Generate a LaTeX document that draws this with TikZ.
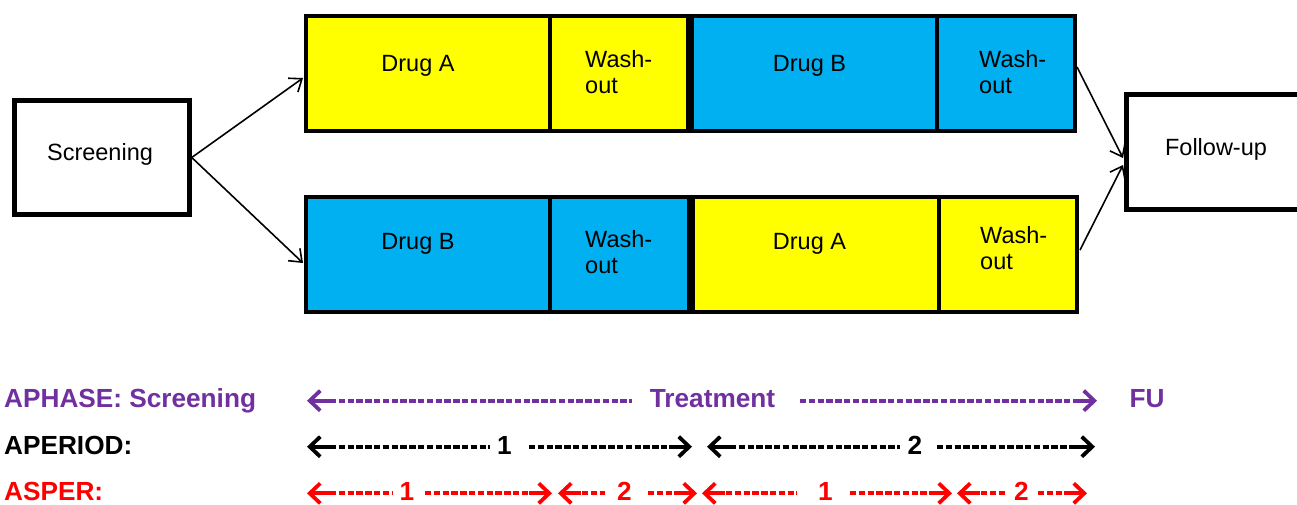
\documentclass[tikz,border=0pt]{standalone}
\usepackage{fontspec}
\setmainfont{Liberation Sans}
\usetikzlibrary{arrows.meta}
\definecolor{drugyellow}{HTML}{FFFF00}
\definecolor{drugblue}{HTML}{00B0F0}
\definecolor{phasepurple}{HTML}{7030A0}
\definecolor{asperred}{HTML}{FF0000}
\begin{document}
\begin{tikzpicture}[x=1pt,y=-1pt,
  cell/.style={draw=black,line width=4.5pt,rectangle,inner sep=0pt,line join=miter},
  boxtext/.style={font=\fontsize{23.5}{26}\selectfont,inner sep=0pt,anchor=base},
  washtext/.style={font=\fontsize{23.5}{26}\selectfont,inner sep=0pt,anchor=base west,align=left},
  flow/.style={line width=1.6pt,-{Straight Barb[length=11pt,width=17pt]}},
  rowtext/.style={font=\fontsize{26.2}{30}\selectfont\bfseries,inner sep=0pt},
  glyph/.style={line width=3.8pt,{Straight Barb[length=10.5pt,width=20pt]}-},
  dashrun/.style={line width=3.8pt,dash pattern=on 6.4pt off 2.4pt}]
\useasboundingbox (0,0) rectangle (1297,504);
\clip (0,0) rectangle (1297,504);

% ---- screening and follow-up boxes ----
\node[cell,minimum width=175,minimum height=114] (scr) at (102,157.5) {};
\node[boxtext] (scrt) at (100,160) {Screening};
\node[cell,minimum width=193.5,minimum height=115] (fu) at (1223.25,152) {};
\node[boxtext] (fut) at (1216,155) {Follow-up};

% ---- sequence AB (top row) ----
\node[cell,fill=drugyellow,minimum width=244,minimum height=115] (a1) at (428,73.5) {};
\node[cell,fill=drugyellow,minimum width=138,minimum height=115] (w1) at (619,73.5) {};
\node[cell,fill=drugblue,minimum width=245,minimum height=115] (b1) at (814.5,73.5) {};
\node[cell,fill=drugblue,minimum width=138,minimum height=115] (w2) at (1006,73.5) {};
\node[boxtext] (a1t) at (418,71) {Drug A};
\node[washtext] (w1t) at (585,93) {Wash-\\out};
\node[boxtext] (b1t) at (809.5,71) {Drug B};
\node[washtext] (w2t) at (979,93) {Wash-\\out};

% ---- sequence BA (bottom row) ----
\node[cell,fill=drugblue,minimum width=244,minimum height=115] (b2) at (428,254.5) {};
\node[cell,fill=drugblue,minimum width=139,minimum height=115] (w3) at (619.5,254.5) {};
\node[cell,fill=drugyellow,minimum width=246,minimum height=115] (a2) at (816,254.5) {};
\node[cell,fill=drugyellow,minimum width=138,minimum height=115] (w4) at (1008,254.5) {};
\node[boxtext] (b2t) at (418,249) {Drug B};
\node[washtext] (w3t) at (585,273) {Wash-\\out};
\node[boxtext] (a2t) at (809.5,249) {Drug A};
\node[washtext] (w4t) at (980,269) {Wash-\\out};

% ---- randomisation and follow-up connectors ----
\coordinate (inTop) at (303,78);
\coordinate (inBot) at (303,263);
\coordinate (outTop) at (1077,67);
\coordinate (outBot) at (1080,250);
\coordinate (fuTop) at (1123,158);
\coordinate (fuBot) at (1123,165);
\draw[flow] (scr.east) -- (inTop);
\draw[flow] (scr.east) -- (inBot);
\draw[flow] (outTop) -- (fuTop);
\draw[flow] (outBot) -- (fuBot);

% ---- analysis variables ----
% APHASE
\begin{scope}[phasepurple]
\node[rowtext,text=phasepurple,anchor=base west] (aphase) at (4,407) {APHASE: Screening};
\node[rowtext,text=phasepurple,anchor=base] (treat) at (712.5,407) {Treatment};
\node[rowtext,text=phasepurple,anchor=base] (fulab) at (1147,407) {FU};
\foreach \x/\d in {307/1,1097/-1}
  \draw[glyph] (\x,400.7) -- ++(23*\d,0);
\foreach \a/\b in {330/632,800/1074}
  \draw[dashrun] (\a,400.7) -- (\b,400.7);
\end{scope}

% APERIOD
\begin{scope}[black]
\node[rowtext,anchor=base west] (aperiod) at (4,454) {APERIOD:};
\node[rowtext,anchor=base] (per1) at (504.5,454) {1};
\node[rowtext,anchor=base] (per2) at (915,454) {2};
\foreach \x/\d in {307/1,692/-1,707/1,1095/-1}
  \draw[glyph] (\x,446.7) -- ++(23*\d,0);
\foreach \a/\b in {330/490,529/669,730/900,937/1072}
  \draw[dashrun] (\a,446.7) -- (\b,446.7);
\end{scope}

% ASPER
\begin{scope}[asperred]
\node[rowtext,text=asperred,anchor=base west] (asper) at (4,500) {ASPER:};
\node[rowtext,text=asperred,anchor=base] (sp11) at (407,500) {1};
\node[rowtext,text=asperred,anchor=base] (sp12) at (624.5,500) {2};
\node[rowtext,text=asperred,anchor=base] (sp21) at (825.5,500) {1};
\node[rowtext,text=asperred,anchor=base] (sp22) at (1021.5,500) {2};
\foreach \x/\d in {307/1,552/-1,558/1,697/-1,702/1,952/-1,957/1,1087/-1}
  \draw[glyph] (\x,493.3) -- ++(23*\d,0);
\foreach \a/\b in {330/392,425/529,582/605,648/674,726/797,850/929,981/1007,1038/1064}
  \draw[dashrun] (\a,493.3) -- (\b,493.3);
\end{scope}
\end{tikzpicture}
\end{document}
